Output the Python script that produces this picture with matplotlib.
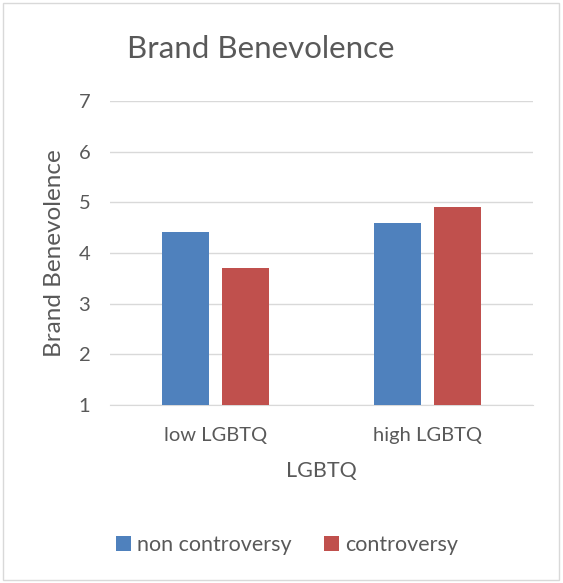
import numpy as np
import matplotlib.pyplot as plt
from matplotlib.patches import Rectangle

plt.rcParams['font.family'] = ['Lato', 'DejaVu Sans']

# data
groups = ["low LGBTQ", "high LGBTQ"]
series_names = ["non controversy", "controversy"]
non_controversy = [4.41, 4.59]
controversy = [3.71, 4.90]
colors = ["#4f81bd", "#c0504d"]
text_col = "#595959"
grid_col = "#d9d9d9"

fig = plt.figure(figsize=(5.63, 5.83), dpi=100)
ax = fig.add_axes([0.195, 0.305, 0.752, 0.522])

x = np.arange(len(groups))
width = 0.222
offset = 0.142
base = 1
ax.bar(x - offset, np.array(non_controversy) - base, width, bottom=base,
       color=colors[0], label=series_names[0], zorder=3)
ax.bar(x + offset, np.array(controversy) - base, width, bottom=base,
       color=colors[1], label=series_names[1], zorder=3)

ax.set_xlim(-0.5, 1.5)
ax.set_ylim(1, 7)
ax.set_yticks(range(1, 8))
ax.set_xticks(x)
ax.set_xticklabels(groups)
ax.grid(axis='y', color=grid_col, linewidth=1, zorder=0)
for s in ['top', 'right', 'left']:
    ax.spines[s].set_visible(False)
ax.spines['bottom'].set_color(grid_col)
ax.tick_params(axis='both', length=0, labelsize=14.5, colors=text_col)
ax.tick_params(axis='x', pad=16)
ax.tick_params(axis='y', pad=14)

ax.set_xlabel("LGBTQ", fontsize=15.5, color=text_col, labelpad=12)
ax.set_ylabel("Brand Benevolence", fontsize=17.5, color=text_col, labelpad=10)
fig.text(0.464, 0.916, "Brand Benevolence", ha='center', va='center',
         fontsize=22.5, color=text_col)

fig.legend(loc='center', bbox_to_anchor=(0.51, 0.065), ncol=2, frameon=False,
           fontsize=15.5, handlelength=0.7, handleheight=0.7,
           handletextpad=0.3, columnspacing=1.5, labelcolor=text_col)

# chart border
fig.patches.append(Rectangle((0.005, 0.005), 0.988, 0.99, transform=fig.transFigure,
                             fill=False, edgecolor=grid_col, linewidth=1))

fig.savefig("out.png", dpi=100)
